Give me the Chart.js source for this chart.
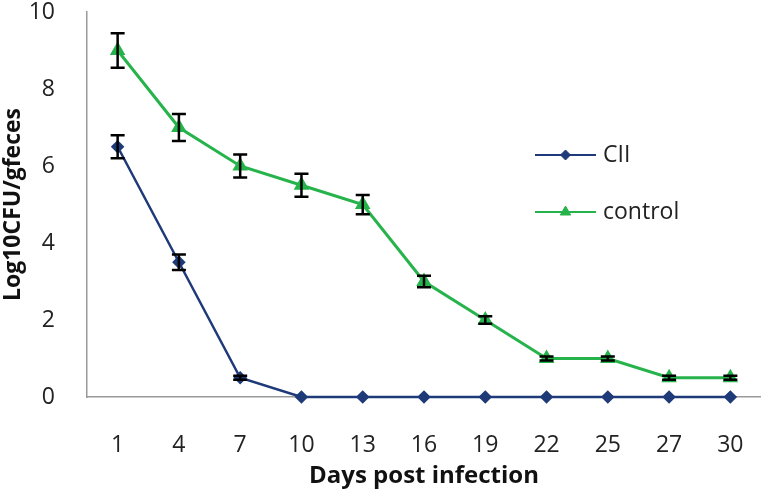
<!DOCTYPE html>
<html>
<head>
<meta charset="utf-8">
<script src="https://cdn.jsdelivr.net/npm/chart.js@4.4.0/dist/chart.umd.min.js"></script>
<style>
    html, body { margin: 0; padding: 0; background: #fff; }
    #wrap { width: 761px; height: 494px; position: relative; }
</style>
</head>
<body>
<div id="wrap"><canvas id="chart"></canvas></div>
<script>
const days = ['1', '4', '7', '10', '13', '16', '19', '22', '25', '27', '30'];
const ciiValues = [6.5, 3.5, 0.5, 0, 0, 0, 0, 0, 0, 0, 0];
const ciiErrors = [0.3, 0.2, 0.05, 0, 0, 0, 0, 0, 0, 0, 0];
const controlValues = [9, 7, 6, 5.5, 5, 3, 2, 1, 1, 0.5, 0.5];
const controlErrors = [0.45, 0.35, 0.3, 0.3, 0.25, 0.15, 0.1, 0.05, 0.05, 0.05, 0.05];
const yTicks = [0, 2, 4, 6, 8, 10];

const FONT = '"Open Sans", Lato, sans-serif';
const NAVY = '#1f3a78';
const GREEN = '#27b34b';

// Error bars: vertical black bar with caps, drawn over the lines
const errorBarPlugin = {
    id: 'errorBars',
    afterDatasetsDraw(chart) {
        const ctx = chart.ctx;
        const yScale = chart.scales.y;
        ctx.save();
        ctx.strokeStyle = '#000';
        ctx.lineWidth = 2.5;
        chart.data.datasets.forEach((ds, i) => {
            const meta = chart.getDatasetMeta(i);
            ds.errors.forEach((err, j) => {
                if (!err) return;
                const x = meta.data[j].x;
                const top = yScale.getPixelForValue(ds.data[j] + err);
                const bottom = yScale.getPixelForValue(ds.data[j] - err);
                ctx.beginPath();
                ctx.moveTo(x, top);
                ctx.lineTo(x, bottom);
                ctx.moveTo(x - 7, top);
                ctx.lineTo(x + 7, top);
                ctx.moveTo(x - 7, bottom);
                ctx.lineTo(x + 7, bottom);
                ctx.stroke();
            });
        });
        ctx.restore();
    }
};

// Legend drawn inside the plot, to the right
const sideLegendPlugin = {
    id: 'sideLegend',
    afterDraw(chart) {
        const ctx = chart.ctx;
        const x0 = 535, x1 = 596, textX = 603;
        const rows = [155, 212];
        ctx.save();
        ctx.font = '23px ' + FONT;
        ctx.textBaseline = 'middle';
        chart.data.datasets.forEach((ds, i) => {
            const y = rows[i];
            ctx.strokeStyle = ds.borderColor;
            ctx.lineWidth = 2;
            ctx.beginPath();
            ctx.moveTo(x0, y);
            ctx.lineTo(x1, y);
            ctx.stroke();
            ctx.fillStyle = ds.pointBackgroundColor;
            ctx.strokeStyle = ds.pointBorderColor;
            ctx.lineWidth = 1;
            Chart.helpers.drawPoint(ctx, {
                pointStyle: ds.pointStyle,
                radius: ds.pointRadius,
                borderWidth: 1
            }, (x0 + x1) / 2, y);
            ctx.fillStyle = '#222';
            ctx.fillText(ds.label, textX, y);
        });
        ctx.restore();
    }
};

const ctx = document.getElementById('chart').getContext('2d');
const chart = new Chart(ctx, {
    type: 'line',
    data: {
        labels: days,
        datasets: [{
            label: 'CII',
            data: ciiValues,
            errors: ciiErrors,
            borderColor: NAVY,
            borderWidth: 2.5,
            pointStyle: 'rectRot',
            pointRadius: 5,
            pointBackgroundColor: NAVY,
            pointBorderColor: NAVY,
            tension: 0,
            clip: false
        }, {
            label: 'control',
            data: controlValues,
            errors: controlErrors,
            borderColor: GREEN,
            borderWidth: 3,
            pointStyle: 'triangle',
            pointRadius: 6,
            pointBackgroundColor: GREEN,
            pointBorderColor: GREEN,
            tension: 0,
            clip: false
        }]
    },
    options: {
        responsive: true,
        maintainAspectRatio: false,
        animation: false,
        layout: { autoPadding: false, padding: { top: 12, right: 0, left: 0, bottom: 0 } },
        plugins: {
            legend: { display: false },
            tooltip: { enabled: false }
        },
        scales: {
            x: {
                offset: true,
                grid: { display: false, drawTicks: false },
                border: { display: true, color: '#9a9a9a', width: 1.5 },
                ticks: { color: '#222', font: { family: FONT, size: 23 }, padding: 35 },
                title: {
                    display: true,
                    text: 'Days post infection',
                    color: '#111',
                    font: { family: FONT, size: 24, weight: 'bold' },
                    padding: { top: 0, bottom: 3 }
                },
                afterFit(scale) {
                    scale.height = 97;
                    scale.paddingLeft = 0;
                    scale.paddingRight = 0;
                }
            },
            y: {
                min: 0,
                max: 10,
                afterBuildTicks(scale) {
                    scale.ticks = yTicks.map(v => ({ value: v }));
                },
                grid: { display: false, drawTicks: false },
                border: { display: true, color: '#9a9a9a', width: 1.5 },
                ticks: { color: '#222', font: { family: FONT, size: 23 }, padding: 32 },
                title: {
                    display: true,
                    text: 'Log10CFU/gfeces',
                    color: '#111',
                    font: { family: FONT, size: 23, weight: 'bold' },
                    padding: { top: 0, bottom: 0 }
                },
                afterFit(scale) {
                    scale.width = 87;
                    scale.paddingTop = 0;
                    scale.paddingBottom = 0;
                }
            }
        }
    },
    plugins: [errorBarPlugin, sideLegendPlugin]
});
</script>
</body>
</html>
